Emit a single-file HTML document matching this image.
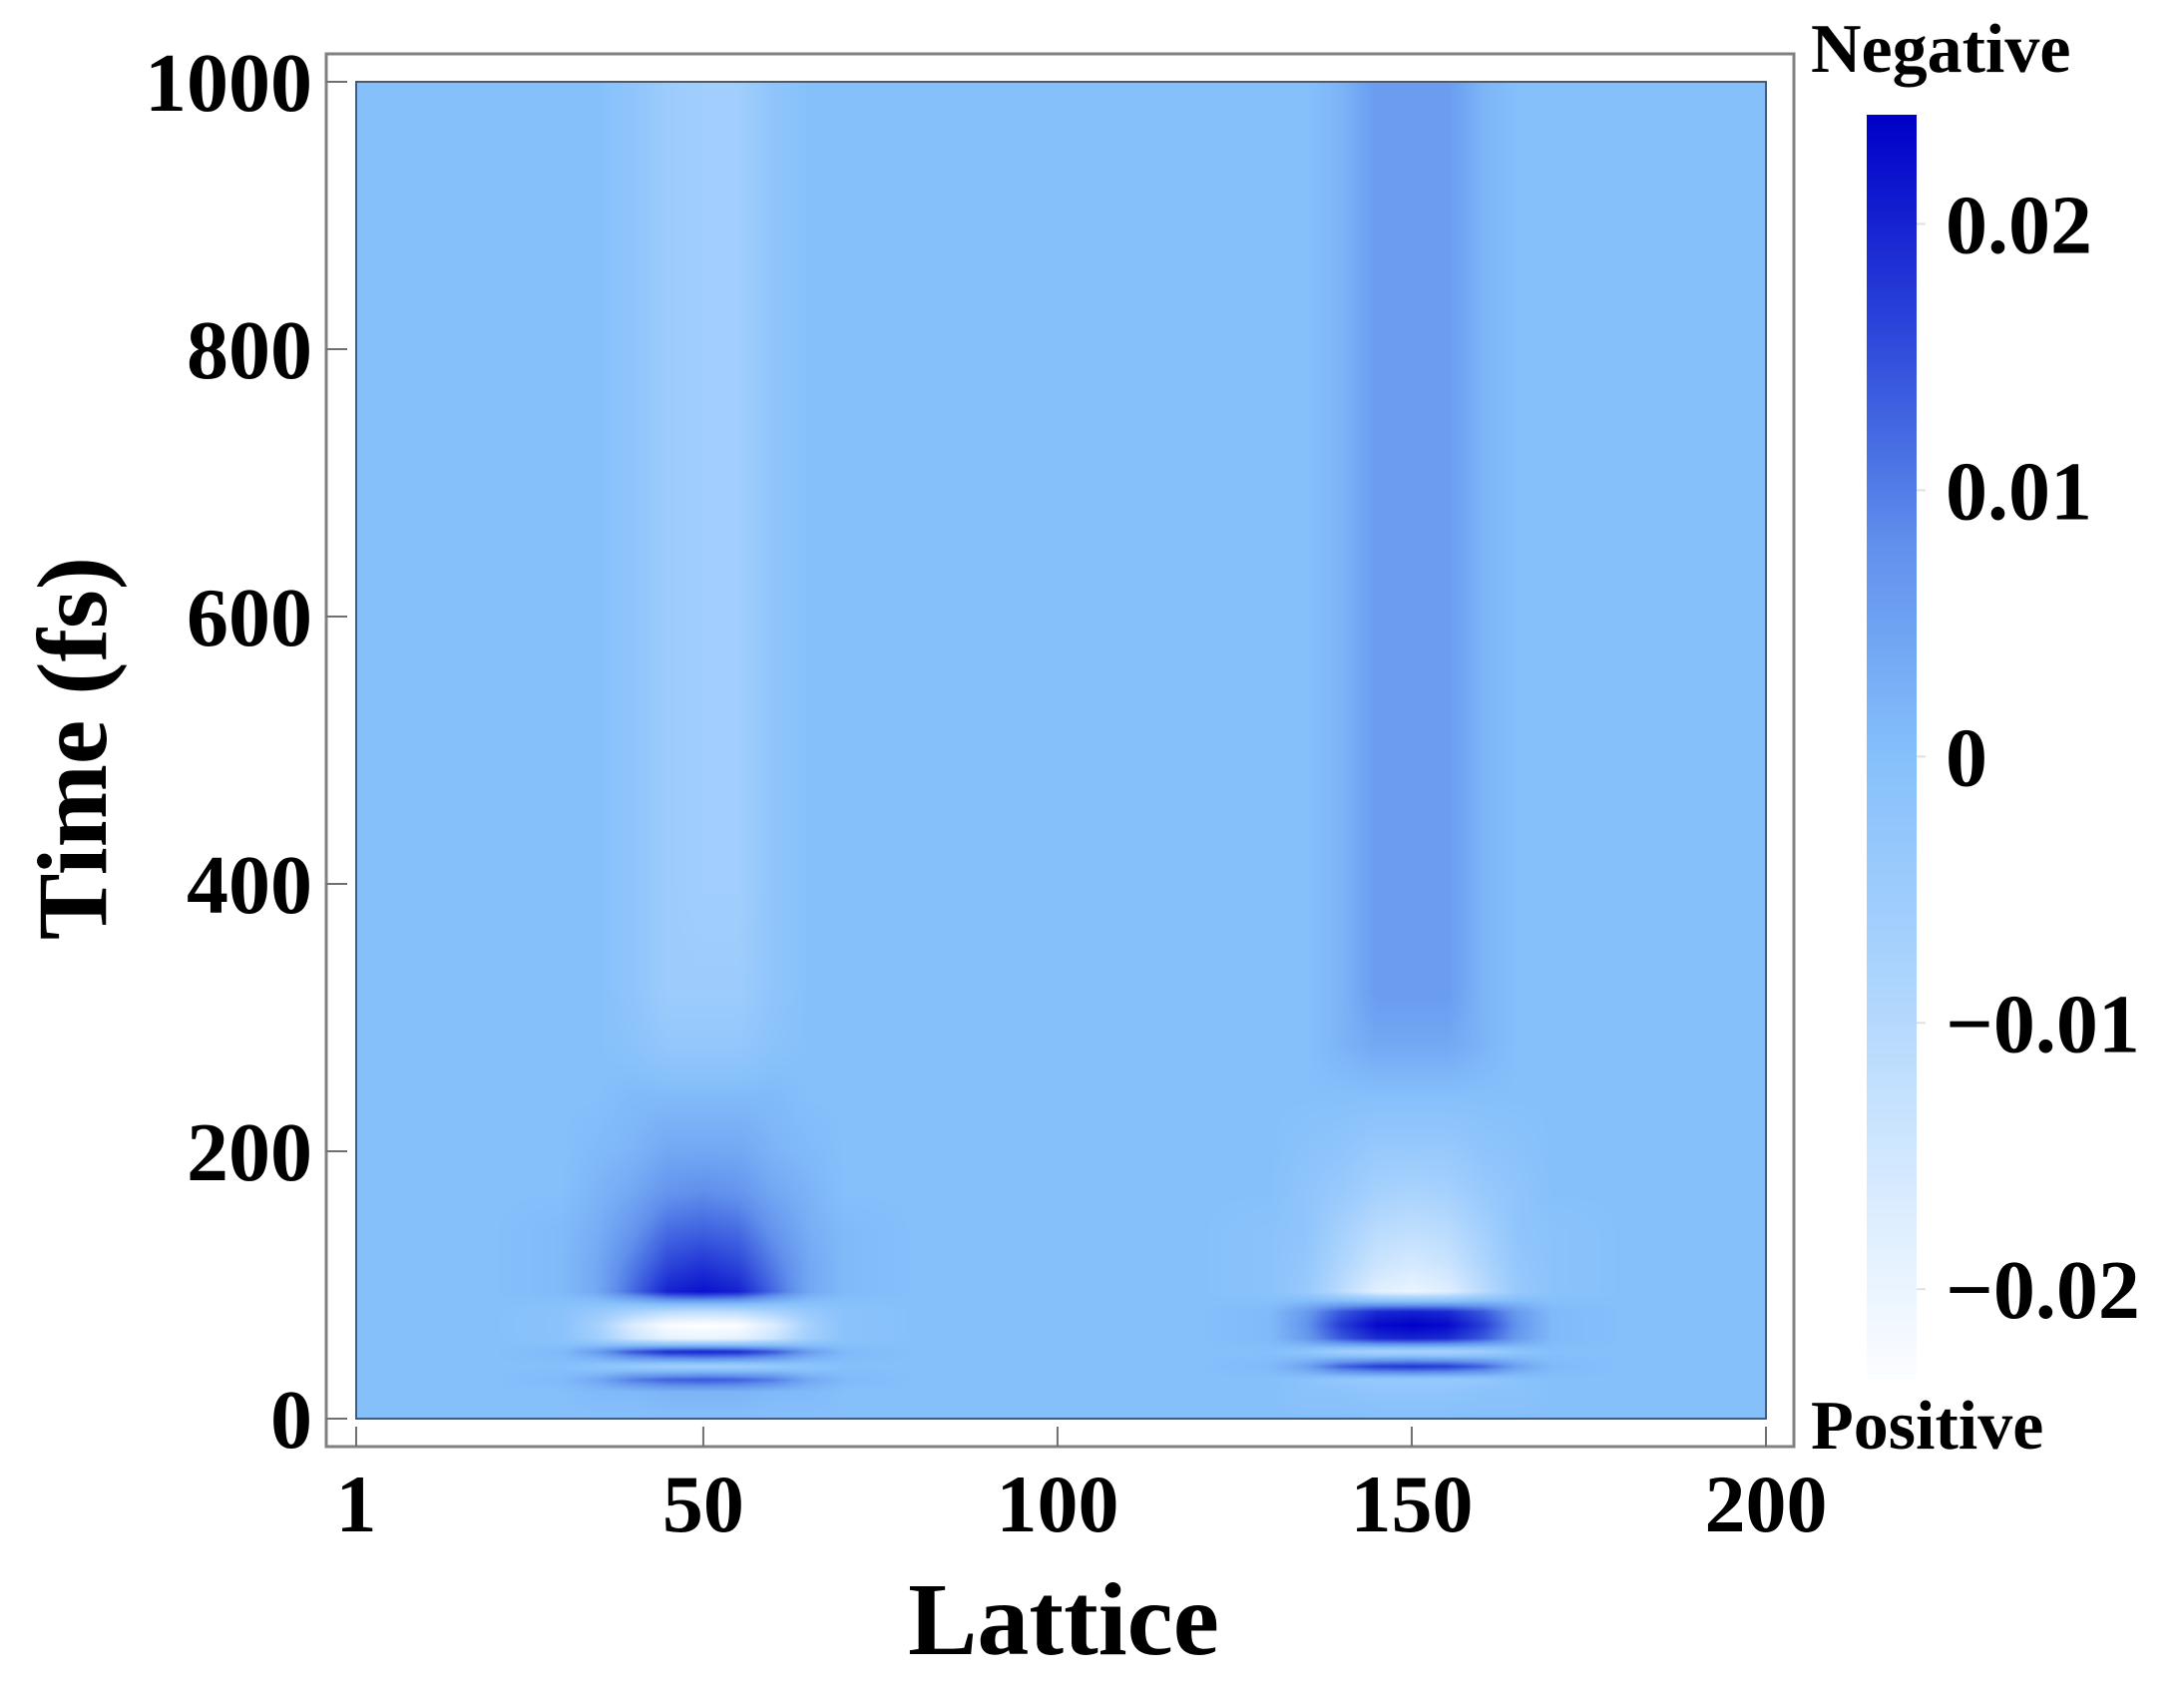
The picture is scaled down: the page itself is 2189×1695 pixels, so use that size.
<!DOCTYPE html>
<html>
<head>
<meta charset="utf-8">
<style>
  html,body{margin:0;padding:0;background:#fff;}
  #wrap{position:relative;width:2189px;height:1695px;overflow:hidden;background:#fff;}
  #heat{position:absolute;left:357px;top:82px;}
  #cbar{position:absolute;left:1871px;top:115px;}
  svg{position:absolute;left:0;top:0;}
  text{font-family:"Liberation Serif","Times New Roman",serif;font-weight:bold;fill:#000;}
</style>
</head>
<body>
<div id="wrap">
  <canvas id="heat" width="1413" height="1340"></canvas>
  <canvas id="cbar" width="50" height="1268"></canvas>
  <svg id="ov" width="2189" height="1695"></svg>
</div>
<script>
// ---- data ----
const latticeCols = [1,20,30,35,40,45,50,55,60,65,70,80,100,120,130,135,140,145,150,155,160,165,170,180,200];
const timeRows = [0,20,29,39,50,60,70,80,95,115,140,170,200,240,280,320,400,600,800,1000];
// values in units of 0.001, one row per timeRows entry, columns per latticeCols
const valueRows = [
 [0,0, 0,0,0,0,0,0,0,0,0,0, 0,0, 0,0,0,0,0,0,0,0,0,0, 0],
 [0,0, 0,1,1,2,2,2,1,1,0,0, 0,0, 0,-1,-1,-2,-2,-2,-1,-1,0,0, 0],
 [0,0, 1,4,10,13,14,13,10,4,1,0, 0,0, 0,-1,-3,-4,-4,-4,-3,-1,0,0, 0],
 [0,0, 0,-2,-4,-6,-6,-6,-4,-2,0,0, 0,0, 1,5,13,17,18,17,13,5,1,0, 0],
 [0,0, 1,6,14,19,20,19,14,6,1,0, 0,0, 0,-2,-6,-8,-8,-8,-6,-2,0,0, 0],
 [0,0, -1,-6,-14,-19,-20,-19,-14,-6,-1,0, 0,0, 1,6,14,19,20,19,14,6,1,0, 0],
 [0,0, -1,-7,-17,-23,-24,-23,-17,-7,-1,0, 0,0, 1,7,17,23,24,23,17,7,1,0, 0],
 [0,0, -1,-4,-8,-11,-12,-11,-8,-4,-1,0, 0,0, 1,6,14,19,20,19,14,6,1,0, 0],
 [0,0, 1,4,12,20,22,20,12,4,1,0, 0,0, -1,-4,-11,-18,-20,-18,-11,-4,-1,0, 0],
 [0,0, 1,4,10,16,18,16,10,4,1,0, 0,0, -1,-3,-9,-14,-16,-14,-9,-3,-1,0, 0],
 [0,0, 1,3,7,12,13,12,7,3,1,0, 0,0, -1,-2,-7,-11,-12,-11,-7,-2,-1,0, 0],
 [0,0, 0,2,4,7,8,7,4,2,0,0, 0,0, 0,-2,-4,-7,-8,-7,-4,-2,0,0, 0],
 [0,0, 0,1,2,4,4,4,2,1,0,0, 0,0, 0,-1,-2,-4,-4,-4,-2,-1,0,0, 0],
 [0,0, 0,0,1,1,1,1,1,0,0,0, 0,0, 0,0,0,0,0,0,0,0,0,0, 0],
 [0,0, 0,0,-1,-3,-3,-3,-1,0,0,0, 0,0, 0,0,2,4,4,4,2,0,0,0, 0],
 [0,0, 0,0,-2,-5,-5,-5,-2,0,0,0, 0,0, 0,0,2,6,6,6,2,0,0,0, 0],
 [0,0, 0,0,-2,-5,-6,-6,-2,0,0,0, 0,0, 0,0,2,6,6,6,2,0,0,0, 0],
 [0,0, 0,0,-2,-5,-6,-6,-2,0,0,0, 0,0, 0,0,2,6,6,6,2,0,0,0, 0],
 [0,0, 0,0,-2,-5,-6,-6,-2,0,0,0, 0,0, 0,0,2,6,6,6,2,0,0,0, 0],
 [0,0, 0,0,-2,-5,-6,-6,-2,0,0,0, 0,0, 0,0,2,6,6,6,2,0,0,0, 0]
];
const xTickValues = [1,50,100,150,200];
const yTickValues = [0,200,400,600,800,1000];
const cbarTickValues = [0.02,0.01,0,-0.01,-0.02];
const cbarTickLabels = ["0.02","0.01","0","\u22120.01","\u22120.02"];
const cbarMin = -0.0234, cbarMax = 0.0241;

// ---- scales ----
const PL=357, PR=1770, PT=82, PB=1422;
function xScale(v){ return PL + (v-1)/(200-1)*(PR-PL); }
function yScale(t){ return PB - t/1000*(PB-PT); }
const CT=115, CB=1383;
function cScale(v){ return CB - (v-cbarMin)/(cbarMax-cbarMin)*(CB-CT); }

const cmStops = [
 [-0.024,[255,255,255]],[-0.016,[214,234,254]],[-0.008,[170,211,253]],
 [0,[134,192,251]],[0.008,[96,144,236]],[0.016,[44,70,218]],[0.024,[0,0,200]]
];
function cmap(v){
  if(v<=cmStops[0][0]) return cmStops[0][1];
  for(let i=1;i<cmStops.length;i++){
    if(v<=cmStops[i][0]){
      const a=cmStops[i-1],b=cmStops[i];const f=(v-a[0])/(b[0]-a[0]);
      return [a[1][0]+f*(b[1][0]-a[1][0]),a[1][1]+f*(b[1][1]-a[1][1]),a[1][2]+f*(b[1][2]-a[1][2])];
    }
  }
  return cmStops[cmStops.length-1][1];
}
function findIdx(arr,v){
  for(let i=0;i<arr.length-1;i++){ if(v<=arr[i+1]) return i; }
  return arr.length-2;
}

(function(){
  const cv=document.getElementById('heat');const ctx=cv.getContext('2d');
  const W=cv.width,H=cv.height;const img=ctx.createImageData(W,H);
  const colIdx=[],colF=[];
  for(let px=0;px<W;px++){
    const lat=1+(px+0.5)/W*199;const i=findIdx(latticeCols,lat);
    colIdx.push(i);colF.push(Math.min(1,Math.max(0,(lat-latticeCols[i])/(latticeCols[i+1]-latticeCols[i]))));
  }
  for(let py=0;py<H;py++){
    const t=1000-(py+0.5)/H*1000;const j=findIdx(timeRows,t);
    const g=Math.min(1,Math.max(0,(t-timeRows[j])/(timeRows[j+1]-timeRows[j])));
    const r0=valueRows[j],r1=valueRows[j+1];
    for(let px=0;px<W;px++){
      const i=colIdx[px],f=colF[px];
      const a=r0[i]+(r0[i+1]-r0[i])*f, b=r1[i]+(r1[i+1]-r1[i])*f;
      const v=(a+(b-a)*g)/1000;const c=cmap(v);
      const k=(py*W+px)*4;img.data[k]=c[0];img.data[k+1]=c[1];img.data[k+2]=c[2];img.data[k+3]=255;
    }
  }
  ctx.putImageData(img,0,0);
  const cb=document.getElementById('cbar');const c2=cb.getContext('2d');
  for(let py=0;py<cb.height;py++){
    const v=cbarMax-(py+0.5)/cb.height*(cbarMax-cbarMin);const c=cmap(v);
    c2.fillStyle='rgb('+c.map(Math.round).join(',')+')';c2.fillRect(0,py,cb.width,1);
  }
})();

const NS='http://www.w3.org/2000/svg';
const svg=document.getElementById('ov');
function mk(tag,attrs,parent){const e=document.createElementNS(NS,tag);for(const k in attrs)e.setAttribute(k,attrs[k]);(parent||svg).appendChild(e);return e;}

const outer=mk('rect',{x:327,y:54,width:1471,height:1396,fill:'none',stroke:'#808080','stroke-width':3});


const inner=mk('rect',{x:357,y:82,width:1413,height:1340,fill:'none',stroke:'#4a5a70','stroke-width':2});



xTickValues.forEach(v=>{
  const x=xScale(v);
  const tk=mk('line',{x1:x,x2:x,y1:1450,y2:1430,stroke:'#707070','stroke-width':2});
  
  
  const tl=mk('text',{x:x,y:1535,'text-anchor':'middle','font-size':82});
  tl.textContent=String(v);
  
  
});
yTickValues.forEach(v=>{
  const y=yScale(v);
  const tk=mk('line',{x1:327,x2:348,y1:y,y2:y,stroke:'#707070','stroke-width':2});
  
  
  const tl=mk('text',{x:313,y:y+29,'text-anchor':'end','font-size':84});
  tl.textContent=String(v);
  
  
});
cbarTickValues.forEach((v,i)=>{
  const y=cScale(v);
  const tk=mk('line',{x1:1921,x2:1930,y1:y,y2:y,stroke:'#e0e0e0','stroke-width':2});
  
  
  const tl=mk('text',{x:1950,y:y+29,'font-size':84});
  tl.textContent=cbarTickLabels[i];
  
  
});
const xt=mk('text',{x:1066,y:1658,'text-anchor':'middle','font-size':104});
xt.textContent='Lattice';


const yt=mk('text',{x:0,y:0,'text-anchor':'middle','font-size':100,transform:'translate(106,750) rotate(-90)'});
yt.textContent='Time (fs)';


const neg=mk('text',{x:1815,y:72,'font-size':70});
neg.textContent='Negative';


const pos=mk('text',{x:1815,y:1452,'font-size':70});
pos.textContent='Positive';


</script>
</body>
</html>
